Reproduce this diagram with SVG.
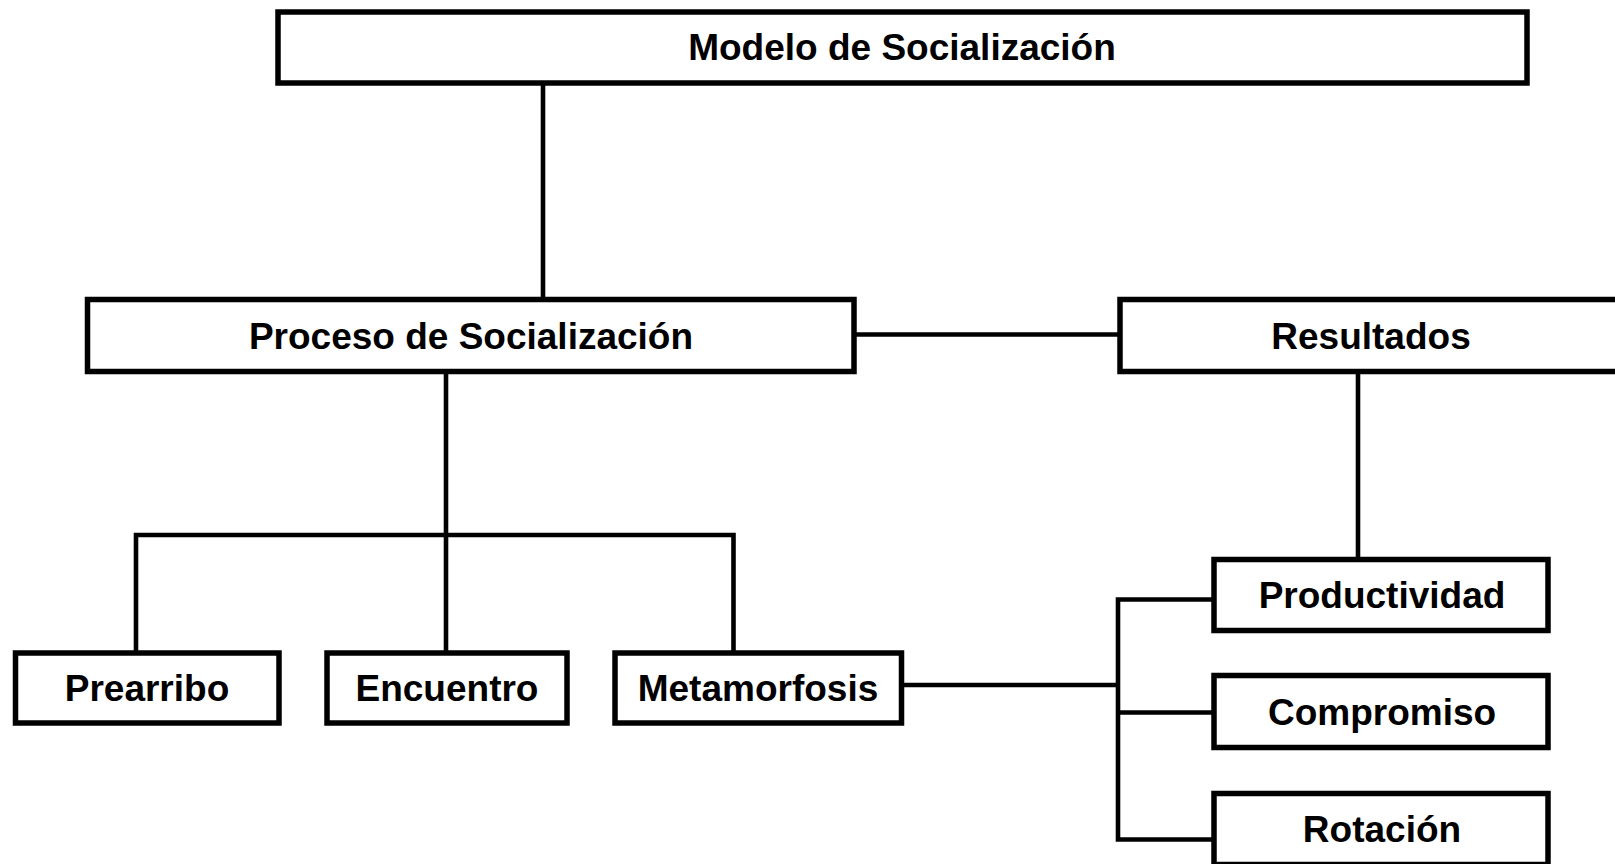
<svg xmlns="http://www.w3.org/2000/svg" width="1615" height="864" viewBox="0 0 1615 864">
<style>
.box{fill:#fff;stroke:#000;stroke-width:5.5}
.lbl{font-family:"Liberation Sans",Arial,sans-serif;font-weight:bold;font-size:37px;fill:#000;text-anchor:middle}
.con{fill:none;stroke:#000;stroke-width:4.6}
</style>
<rect width="1615" height="864" fill="#fff"/>
<g id="connectors">
<line class="con" x1="543" y1="83" x2="543" y2="299"/>
<line class="con" x1="854" y1="334.5" x2="1120" y2="334.5"/>
<line class="con" x1="446" y1="372" x2="446" y2="653"/>
<polyline class="con" points="136,653 136,535 733.5,535 733.5,653"/>
<line class="con" x1="1358" y1="372" x2="1358" y2="559"/>
<line class="con" x1="901" y1="685" x2="1118" y2="685"/>
<polyline class="con" points="1214,599.5 1118,599.5 1118,839.5 1214,839.5"/>
<line class="con" x1="1118" y1="712.5" x2="1214" y2="712.5"/>
</g>
<g id="modelo"><rect class="box" x="278" y="12" width="1249" height="71"/><text class="lbl" x="902" y="60">Modelo de Socialización</text></g>
<g id="proceso"><rect class="box" x="87.5" y="299.5" width="766.5" height="72"/><text class="lbl" x="471" y="348.5">Proceso de Socialización</text></g>
<g id="resultados"><rect class="box" x="1120" y="299.5" width="500" height="72"/><text class="lbl" x="1371" y="348.5">Resultados</text></g>
<g id="prearribo"><rect class="box" x="15.5" y="653" width="263.5" height="70"/><text class="lbl" x="147" y="700.5">Prearribo</text></g>
<g id="encuentro"><rect class="box" x="327" y="653" width="240" height="70"/><text class="lbl" x="447" y="700.5">Encuentro</text></g>
<g id="metamorfosis"><rect class="box" x="615" y="653" width="286.5" height="70"/><text class="lbl" x="758" y="700.5">Metamorfosis</text></g>
<g id="productividad"><rect class="box" x="1214" y="559.5" width="334" height="71"/><text class="lbl" x="1382" y="608">Productividad</text></g>
<g id="compromiso"><rect class="box" x="1214" y="675.5" width="334" height="72"/><text class="lbl" x="1382" y="724.5">Compromiso</text></g>
<g id="rotacion"><rect class="box" x="1214" y="793.5" width="334" height="71"/><text class="lbl" x="1382" y="842">Rotación</text></g>
</svg>
